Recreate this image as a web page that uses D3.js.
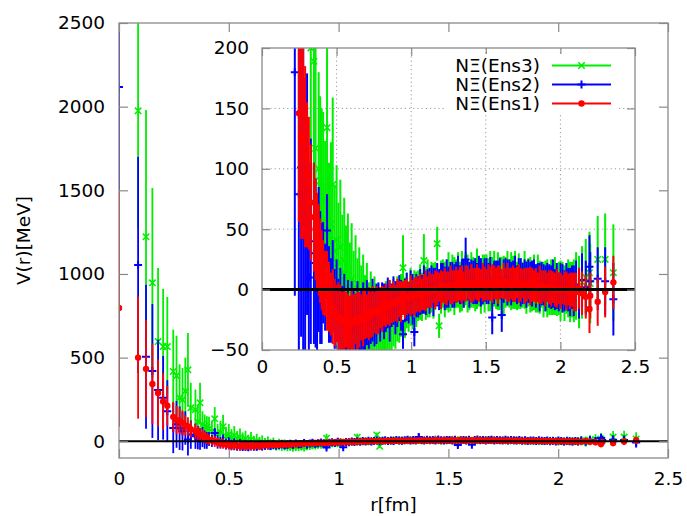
<!DOCTYPE html>
<html>
<head>
<meta charset="utf-8">
<script src="https://cdn.jsdelivr.net/npm/d3@7"></script>
<style>
  body { margin: 0; background: #fff; }
  svg { display: block; }
  text { font-family: "DejaVu Sans", sans-serif; fill: #000; }
</style>
</head>
<body>
<svg id="chart" width="687" height="516"></svg>
<script>
// Separation r [fm] shared by all three ensembles
const radii = [
  0, 0.087, 0.123, 0.152, 0.178, 0.201, 0.220, 0.247, 0.262, 0.276,
  0.289, 0.302, 0.314, 0.327, 0.348, 0.359, 0.369, 0.380, 0.390, 0.400,
  0.410, 0.423, 0.436, 0.449, 0.462, 0.474, 0.487, 0.500, 0.512, 0.525,
  0.538, 0.551, 0.563, 0.576, 0.589, 0.601, 0.614, 0.627, 0.640, 0.652,
  0.665, 0.678, 0.690, 0.703, 0.716, 0.729, 0.741, 0.754, 0.767, 0.780,
  0.792, 0.805, 0.818, 0.830, 0.843, 0.856, 0.869, 0.881, 0.894, 0.907,
  0.920, 0.932, 0.945, 0.958, 0.970, 0.983, 0.996, 1.009, 1.021, 1.034,
  1.047, 1.060, 1.072, 1.085, 1.098, 1.110, 1.123, 1.136, 1.149, 1.161,
  1.174, 1.187, 1.200, 1.212, 1.225, 1.238, 1.250, 1.263, 1.276, 1.289,
  1.301, 1.314, 1.327, 1.340, 1.352, 1.365, 1.378, 1.390, 1.403, 1.416,
  1.429, 1.441, 1.454, 1.467, 1.480, 1.492, 1.505, 1.518, 1.530, 1.543,
  1.556, 1.569, 1.581, 1.594, 1.607, 1.620, 1.632, 1.645, 1.658, 1.670,
  1.683, 1.696, 1.709, 1.721, 1.734, 1.747, 1.760, 1.772, 1.785, 1.798,
  1.810, 1.823, 1.836, 1.849, 1.861, 1.874, 1.887, 1.900, 1.912, 1.925,
  1.938, 1.950, 1.963, 1.976, 1.989, 2.001, 2.014, 2.027, 2.040, 2.052,
  2.065, 2.078, 2.090,
  2.105, 2.125, 2.145, 2.170, 2.195, 2.200, 2.250, 2.300, 2.355
];

// NΞ potential V(r) [MeV] and its statistical error, ensemble 1
const ens1Values = [
  797, 500, 433, 343, 289, 238, 212, 146, 127, 122,
  110, 95, 88, 72, 60, 50, 40, 33, 24, 16,
  10, 5, -1, -6, -12, -14, -19, -21, -24, -23,
  -26, -28, -25, -29, -27, -26, -28, -24, -27, -25,
  -23, -24, -21, -22, -20, -21, -18, -19, -17, -19,
  -15, -16, -14, -13, -14, -11, -12, -10, -11, -9,
  -8, -10, -7, -8, -6, -7, -5, -6, -6, -4,
  -4, -3, -4, -2, -1, -2, 0, -1, 1, 0,
  1, 2, 0, 2, 3, 1, 3, 4, 2, 3,
  4, 3, 5, 4, 3, 5, 6, 4, 5, 4,
  5, 6, 4, 5, 6, 5, 4, 6, 5, 5,
  6, 5, 4, 6, 5, 7, 5, 6, 4, 5,
  5, 4, 6, 5, 4, 5, 3, 4, 5, 3,
  4, 3, 3, 2, 4, 2, 3, 1, 2, 2,
  1, 2, 0, 1, 1, -1, 0, 1, -1, 0,
  -1, 0, -2,
  -2, 1, -3, -6, -16, -5, -10, -2, 6
];
const ens1Errors = [
  710, 365, 290, 240, 200, 170, 120, 90, 85, 80,
  75, 60, 55, 48, 45, 42, 40, 38, 35, 33,
  31, 27, 33, 29, 26, 31, 28, 25, 30, 27,
  24, 28, 23, 26, 22, 27, 24, 21, 25, 23,
  19, 23, 20, 18, 22, 19, 21, 17, 20, 18,
  17, 19, 16, 18, 15, 19, 16, 17, 15, 18,
  15, 17, 14, 16, 15, 13, 17, 14, 16, 15,
  14, 16, 13, 15, 17, 13, 15, 14, 12, 16,
  14, 12, 16, 13, 15, 14, 12, 16, 14, 13,
  15, 13, 14, 16, 12, 15, 14, 13, 16, 14,
  13, 15, 14, 12, 16, 14, 13, 15, 14, 16,
  14, 13, 16, 14, 12, 15, 13, 16, 14, 13,
  15, 14, 13, 16, 14, 12, 15, 14, 13, 16,
  14, 13, 15, 12, 16, 14, 13, 15, 12, 14,
  15, 13, 14, 16, 13, 15, 12, 14, 16, 13,
  15, 14, 16,
  16, 17, 18, 18, 20, 19, 20, 21, 22
];

// Ensemble 2
const ens2Values = [
  2117, 1054, 505, 420, 307, 260, 180, 79, 101, 78,
  60, 79, 10, 40, 30, 22, 15, 25, 10, 5,
  14, 2, 49, -4, -9, 3, -16, -12, -22, -18,
  -27, -21, -30, -25, -33, -24, -28, -31, -23, -29,
  -26, -22, -28, -19, -25, -23, -17, -24, -20, -15,
  -21, -14, -18, -16, -11, -19, -13, -9, -15, -12,
  -7, -13, -37, -9, -6, -11, -3, -8, -35, -5,
  -6, -2, -4, 0, -3, 1, -1, 3, -2, 2,
  4, 0, 3, 6, 1, 5, 2, 7, 4, 3,
  6, 9, 4, 7, 5, 25, 8, 4, 9, 6,
  7, 5, 10, 6, 4, 8, 7, 5, 9, -23,
  6, 8, 5, 9, -21, 7, 10, 6, 8, 5,
  7, 9, 4, 8, 6, 5, 9, 4, 7, 6,
  5, 8, 3, 6, 2, 5, 4, 1, 6, 3,
  2, 5, 0, 3, -2, 4, 1, -1, 3, 0,
  -2, 2, -1,
  4, -3, 8, 2, 19, 7, 9, 7, -8
];
const ens2Errors = [
  615, 646, 430, 400, 300, 250, 185, 150, 140, 130,
  115, 100, 95, 85, 75, 70, 65, 60, 55, 50,
  42, 36, 30, 40, 35, 38, 33, 37, 31, 36,
  30, 34, 28, 33, 27, 31, 29, 26, 30, 27,
  25, 28, 23, 27, 24, 22, 26, 23, 25, 21,
  22, 20, 23, 19, 21, 24, 18, 20, 22, 19,
  19, 21, 12, 18, 20, 17, 19, 21, 12, 18,
  17, 19, 16, 20, 18, 16, 19, 17, 20, 16,
  18, 17, 19, 16, 18, 20, 17, 16, 19, 18,
  17, 19, 16, 18, 20, 18, 17, 19, 16, 18,
  19, 17, 18, 20, 16, 18, 19, 17, 18, 14,
  18, 16, 19, 17, 14, 18, 16, 19, 17, 18,
  17, 19, 16, 18, 20, 17, 16, 19, 18, 17,
  19, 17, 18, 16, 20, 18, 17, 19, 16, 18,
  18, 20, 17, 19, 16, 18, 20, 17, 19, 18,
  20, 18, 21,
  20, 21, 22, 22, 26, 24, 26, 28, 30
];

// Ensemble 3 (its r = 0 point lies above the plotted range)
const ens3Values = [
  null, 1975, 1222, 947, 596, 566, 566, 417, 391, 260,
  248, 300, 427, 200, 189, 117, 230, 100, 90, 85,
  75, 58, 134, 45, 54, 87, 32, 41, 22, 35,
  14, 24, 8, 16, -3, 9, -8, 2, -12, -6,
  -15, -9, -21, -14, -25, -19, -28, -22, -31, -26,
  -33, -27, -30, -24, -34, -22, -26, -19, -24, -16,
  -20, -13, 18, -15, -9, -14, -6, -11, -4, -8,
  -5, -2, -6, 24, -3, 1, -4, 2, -1, 3,
  38, -30, 2, 5, 0, 4, 6, 1, 7, 3,
  5, 8, 2, 7, 4, 9, 5, 3, 8, 6,
  4, 9, 6, 3, 8, 5, 10, 4, 7, 6,
  9, 4, 7, 5, 8, 3, 6, 9, 5, 7,
  6, 8, 3, 7, 5, 4, 8, 2, 6, 4,
  3, 6, 1, 5, 2, 4, 0, 3, 1, -1,
  2, 0, 3, -2, 1, -1, 2, -3, 0, 1,
  -2, 0, -1,
  3, -2, 6, 10, 14, 5, 25, 25, 14
];
const ens3Errors = [
  null, 700, 758, 567, 440, 345, 297, 250, 240, 200,
  190, 200, 220, 150, 120, 100, 120, 80, 70, 65,
  72, 65, 70, 60, 68, 72, 55, 62, 50, 56,
  48, 52, 45, 47, 42, 46, 40, 43, 38, 41,
  35, 38, 33, 36, 31, 34, 30, 33, 29, 31,
  30, 32, 28, 31, 27, 30, 26, 28, 25, 27,
  24, 26, 27, 25, 23, 21, 24, 22, 20, 23,
  21, 23, 20, 22, 22, 24, 19, 21, 23, 20,
  14, 10, 22, 20, 23, 21, 25, 19, 22, 24,
  20, 23, 21, 25, 19, 22, 24, 20, 23, 21,
  22, 25, 20, 23, 21, 24, 19, 22, 25, 21,
  23, 20, 24, 22, 19, 25, 21, 23, 20, 24,
  22, 24, 20, 23, 21, 19, 24, 22, 20, 23,
  21, 23, 20, 24, 22, 19, 23, 21, 24, 20,
  23, 21, 24, 20, 22, 25, 21, 23, 20, 24,
  25, 23, 26,
  28, 30, 30, 32, 34, 33, 36, 38, 40
];

const seriesNames = ["NΞ(Ens3)", "NΞ(Ens2)", "NΞ(Ens1)"];
const seriesColors = ["#00ee00", "#0000ff", "#ff0000"];
const seriesMarkers = ["cross", "plus", "dot"];

const xTicks = [0, 0.5, 1, 1.5, 2, 2.5];
const xTickLabels = ["0", "0.5", "1", "1.5", "2", "2.5"];
const mainYTicks = [0, 500, 1000, 1500, 2000, 2500];
const insetYTicks = [-50, 0, 50, 100, 150, 200];

const xLabel = "r[fm]";
const yLabel = "V(r)[MeV]";

// Point lists per ensemble, in legend order (Ens3 drawn first, Ens1 on top)
const valueSets = [ens3Values, ens2Values, ens1Values];
const errorSets = [ens3Errors, ens2Errors, ens1Errors];
const series = seriesNames.map((name, i) => ({
  name,
  color: seriesColors[i],
  marker: seriesMarkers[i],
  points: radii.map((r, j) => ({ r, v: valueSets[i][j], e: errorSets[i][j] }))
               .filter(p => p.v !== null)
}));

const svg = d3.select("#chart");
const FRAME = "#8a8a8a";
const FONT_SIZE = 18.5;
const intFormat = d3.format("d");

function markerPath(kind, s) {
  if (kind === "plus") return `M${-s},0H${s}M0,${-s}V${s}`;
  return `M${-s},${-s}L${s},${s}M${-s},${s}L${s},${-s}`;
}

function drawMarker(g, kind, color, cx, cy) {
  if (kind === "dot") {
    g.append("circle").attr("cx", cx).attr("cy", cy).attr("r", 3.2).attr("fill", color);
  } else {
    g.append("path")
      .attr("transform", `translate(${cx},${cy})`)
      .attr("d", markerPath(kind, kind === "plus" ? 4 : 3.2))
      .attr("fill", "none").attr("stroke", color)
      .attr("stroke-width", kind === "plus" ? 2 : 1.6);
  }
}

// A point whose central value falls outside the panel's range is skipped
// together with its error bar; bars of points inside are clipped at the frame.
function drawData(g, x, y, barWidth) {
  const [lo, hi] = y.domain();
  series.forEach(s => {
    const pts = s.points.filter(d => d.v >= lo && d.v <= hi);
    const sg = g.append("g");
    sg.selectAll("line.bar").data(pts).join("line")
      .attr("class", "bar")
      .attr("x1", d => x(d.r)).attr("x2", d => x(d.r))
      .attr("y1", d => y(d.v - d.e)).attr("y2", d => y(d.v + d.e))
      .attr("stroke", s.color).attr("stroke-width", barWidth);
    pts.forEach(d => drawMarker(sg, s.marker, s.color, x(d.r), y(d.v)));
  });
}

function styleAxis(sel) {
  sel.select(".domain").remove();
  sel.selectAll(".tick line").attr("stroke", FRAME).attr("stroke-width", 1.2);
  sel.selectAll(".tick text").attr("font-size", FONT_SIZE)
    .attr("font-family", "DejaVu Sans, sans-serif").attr("fill", "#000");
}

// ---------- main panel ----------
const mx = d3.scaleLinear().domain([0, 2.5]).range([119, 668]);
const my = d3.scaleLinear().domain([-100, 2500]).range([458, 23]);

svg.append("clipPath").attr("id", "clip-main")
  .append("rect").attr("x", 119).attr("y", 23).attr("width", 549).attr("height", 435);

const mainData = svg.append("g").attr("clip-path", "url(#clip-main)");
drawData(mainData, mx, my, 1.8);
mainData.append("line")
  .attr("x1", mx(0)).attr("x2", mx(2.5)).attr("y1", my(0)).attr("y2", my(0))
  .attr("stroke", "#000").attr("stroke-width", 2);

svg.append("g").attr("transform", "translate(0,458)")
  .call(d3.axisBottom(mx).tickValues(xTicks).tickFormat((d, i) => xTickLabels[i]).tickSize(-9).tickPadding(14))
  .call(styleAxis);
svg.append("g").attr("transform", "translate(0,23)")
  .call(d3.axisTop(mx).tickValues(xTicks).tickFormat("").tickSize(-9))
  .call(styleAxis);
svg.append("g").attr("transform", "translate(119,0)")
  .call(d3.axisLeft(my).tickValues(mainYTicks).tickFormat(intFormat).tickSize(-9).tickPadding(14))
  .call(styleAxis);
svg.append("g").attr("transform", "translate(668,0)")
  .call(d3.axisRight(my).tickValues(mainYTicks).tickFormat("").tickSize(-9))
  .call(styleAxis);

svg.append("rect").attr("x", 119).attr("y", 23).attr("width", 549).attr("height", 435)
  .attr("fill", "none").attr("stroke", FRAME).attr("stroke-width", 1.3);

svg.append("text").attr("x", 393.5).attr("y", 511).attr("text-anchor", "middle")
  .attr("font-size", FONT_SIZE).text(xLabel);
svg.append("text").attr("transform", "translate(30,240.5) rotate(-90)").attr("text-anchor", "middle")
  .attr("font-size", FONT_SIZE).text(yLabel);

// ---------- inset panel ----------
const ix = d3.scaleLinear().domain([0, 2.5]).range([262, 635]);
const iy = d3.scaleLinear().domain([-50, 200]).range([350, 48]);

svg.append("rect").attr("x", 262).attr("y", 48).attr("width", 373).attr("height", 302).attr("fill", "#fff");

// dotted grid
const grid = svg.append("g").attr("stroke", "#9a9a9a").attr("stroke-width", 1).attr("stroke-dasharray", "1.2,3");
grid.selectAll("line.gx").data(xTicks.slice(1, -1)).join("line")
  .attr("x1", d => ix(d)).attr("x2", d => ix(d)).attr("y1", 48).attr("y2", 350);
grid.selectAll("line.gy").data(insetYTicks.slice(1, -1)).join("line")
  .attr("x1", 262).attr("x2", 635).attr("y1", d => iy(d)).attr("y2", d => iy(d));

svg.append("clipPath").attr("id", "clip-inset")
  .append("rect").attr("x", 262).attr("y", 48).attr("width", 373).attr("height", 302);

const insetData = svg.append("g").attr("clip-path", "url(#clip-inset)");
drawData(insetData, ix, iy, 2);
insetData.append("line")
  .attr("x1", ix(0)).attr("x2", ix(2.5)).attr("y1", iy(0)).attr("y2", iy(0))
  .attr("stroke", "#000").attr("stroke-width", 3);

svg.append("g").attr("transform", "translate(0,350)")
  .call(d3.axisBottom(ix).tickValues(xTicks).tickFormat((d, i) => xTickLabels[i]).tickSize(-8).tickPadding(10))
  .call(styleAxis);
svg.append("g").attr("transform", "translate(0,48)")
  .call(d3.axisTop(ix).tickValues(xTicks).tickFormat("").tickSize(-8))
  .call(styleAxis);
svg.append("g").attr("transform", "translate(262,0)")
  .call(d3.axisLeft(iy).tickValues(insetYTicks).tickFormat(intFormat).tickSize(-8).tickPadding(13))
  .call(styleAxis);
svg.append("g").attr("transform", "translate(635,0)")
  .call(d3.axisRight(iy).tickValues(insetYTicks).tickFormat("").tickSize(-8))
  .call(styleAxis);

svg.append("rect").attr("x", 262).attr("y", 48).attr("width", 373).attr("height", 302)
  .attr("fill", "none").attr("stroke", FRAME).attr("stroke-width", 1.3);

// ---------- legend ----------
const legend = svg.append("g");
legend.append("rect").attr("x", 446).attr("y", 54).attr("width", 172).attr("height", 60).attr("fill", "#fff");
const rowY = [65.5, 84.5, 103.5];
series.forEach((s, i) => {
  legend.append("text").attr("x", 540).attr("y", rowY[i]).attr("dy", "0.36em")
    .attr("text-anchor", "end").attr("font-size", FONT_SIZE).text(s.name);
  legend.append("line").attr("x1", 552).attr("x2", 611).attr("y1", rowY[i]).attr("y2", rowY[i])
    .attr("stroke", s.color).attr("stroke-width", 2);
  drawMarker(legend, s.marker, s.color, 581.5, rowY[i]);
});
</script>
</body>
</html>
